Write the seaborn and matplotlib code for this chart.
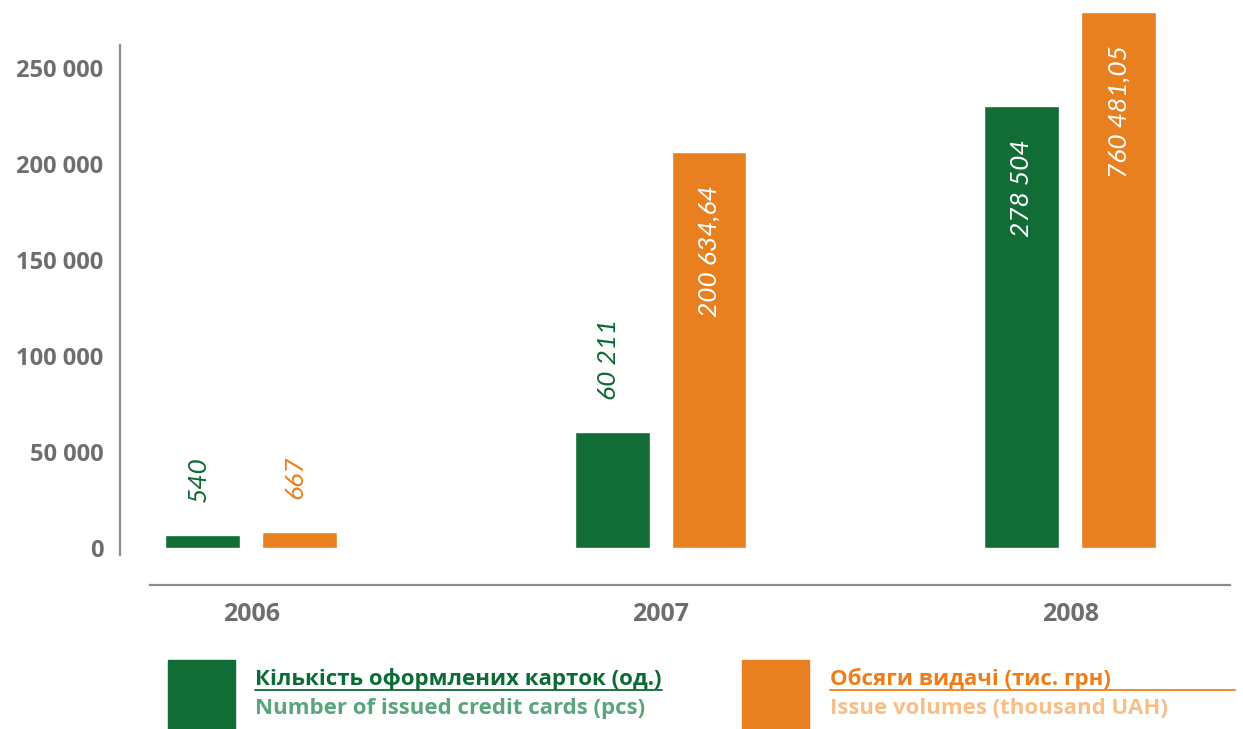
"""Credit cards issued vs issue volumes, 2006-2008."""

import matplotlib

matplotlib.use("Agg")

import matplotlib.pyplot as plt
import pandas as pd
import seaborn as sns
from matplotlib.lines import Line2D
from matplotlib.patches import Rectangle


years = ["2006", "2007", "2008"]
# bar heights as drawn in the picture
cards = [7000, 60211, 230000]
volumes = [8500, 206000, 279000]
# handwritten labels printed on the bars
cards_labels = ["540", "60 211", "278 504"]
volumes_labels = ["667", "200 634,64", "760 481,05"]

series_names = ["cards", "volumes"]
yticks = [0, 50000, 100000, 150000, 200000, 250000]
ytick_labels = ["0", "50 000", "100 000", "150 000", "200 000", "250 000"]

GREEN = "#116c35"
ORANGE = "#e8801f"
GREEN_TXT = "#0b6b34"
ORANGE_TXT = "#ef7d1a"
GRAY = "#6e6e6e"

sns.set_theme(style="white")
plt.rcParams["font.family"] = ["Open Sans", "DejaVu Sans"]

df = pd.DataFrame(
    {
        "year": years * 2,
        "value": cards + volumes,
        "series": [series_names[0]] * 3 + [series_names[1]] * 3,
    }
)

fig = plt.figure(figsize=(12.43, 7.29), dpi=100)
ax = fig.add_axes([120 / 1243, 1 - 585 / 729, 1110 / 1243, 585 / 729])

sns.barplot(
    data=df,
    x="year",
    y="value",
    hue="series",
    order=years,
    hue_order=series_names,
    palette=[GREEN, ORANGE],
    saturation=1,
    width=0.473,
    gap=0.228,
    legend=False,
    ax=ax,
)

for container, labels, col in zip(ax.containers, [cards_labels, volumes_labels],
                                  [GREEN_TXT, ORANGE_TXT]):
    for bar, lab in zip(container, labels):
        xc = bar.get_x() + bar.get_width() / 2
        h = bar.get_height()
        if h > 100000:
            ax.text(xc, h - 17000, lab, rotation=90, ha="center", va="top",
                    color="white", fontsize=19, style="italic",
                    family=["Lato", "DejaVu Sans"])
        else:
            ax.text(xc - 0.01, h + 17000, lab, rotation=90, ha="center",
                    va="bottom", color=col, fontsize=19, style="italic",
                    family=["Lato", "DejaVu Sans"])

ax.set_xlim(-0.32, 2.39)
ax.set_ylim(-19300, 285400)
ax.set_yticks(yticks)
ax.set_yticklabels(ytick_labels)
ax.set_xlabel("")
ax.set_ylabel("")

ax.tick_params(axis="y", length=0, pad=12, labelsize=17, labelcolor=GRAY)
ax.tick_params(axis="x", length=0, pad=12, labelsize=18, labelcolor=GRAY)
for lab in ax.get_yticklabels() + ax.get_xticklabels():
    lab.set_fontweight("bold")

for side in ["top", "right"]:
    ax.spines[side].set_visible(False)
ax.spines["left"].set_color("#8c8c8c")
ax.spines["left"].set_linewidth(1.6)
ax.spines["left"].set_bounds(-3600, 262000)
ax.spines["bottom"].set_color("#8c8c8c")
ax.spines["bottom"].set_linewidth(1.6)
ax.spines["bottom"].set_bounds(-0.246, 2.39)

# legend drawn by hand at the bottom
legend_items = [
    (168, 255, 662, GREEN, GREEN_TXT, "#5aa57c",
     "Кількість оформлених карток (од.)", "Number of issued credit cards (pcs)"),
    (742, 830, 1235, ORANGE, ORANGE_TXT, "#f7bf87",
     "Обсяги видачі (тис. грн)", "Issue volumes (thousand UAH)"),
]
for px, tx, lx, fill, c1, c2, t1, t2 in legend_items:
    fig.patches.append(Rectangle((px / 1243, 0), 67 / 1243, 69 / 729,
                                 transform=fig.transFigure, color=fill))
    fig.text(tx / 1243, 1 - 685 / 729, t1, color=c1, fontsize=16,
             fontweight="bold", va="baseline")
    fig.add_artist(Line2D([tx / 1243, lx / 1243], [1 - 690 / 729] * 2,
                          color=c1, lw=1.3, transform=fig.transFigure))
    fig.text(tx / 1243, 1 - 714 / 729, t2, color=c2, fontsize=16,
             fontweight="bold", va="baseline")

fig.savefig("out.png", dpi=100)
plt.close(fig)
